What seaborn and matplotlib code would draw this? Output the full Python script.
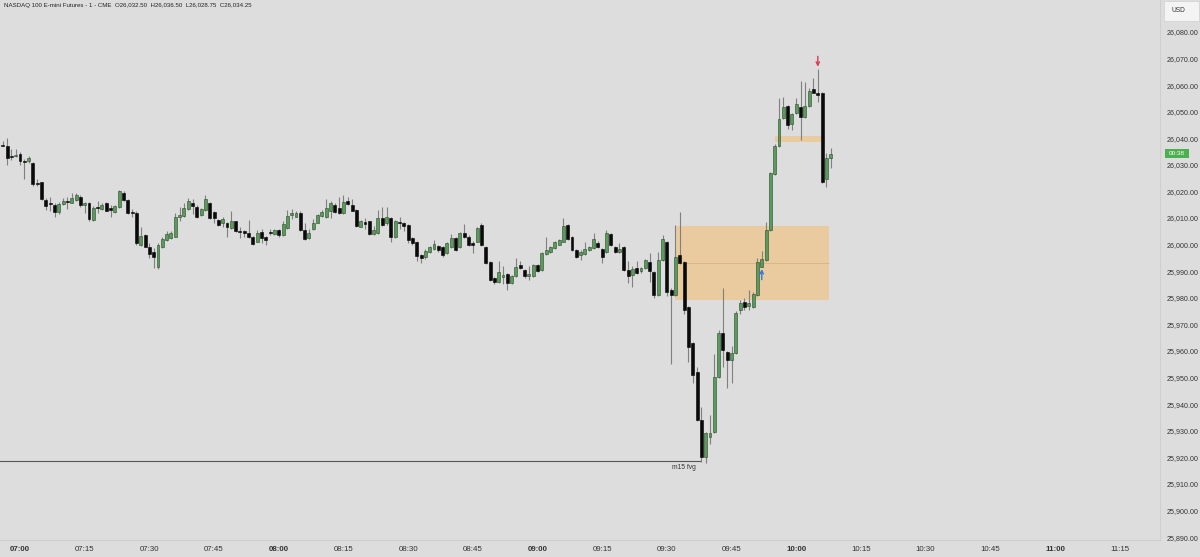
import numpy as np
import pandas as pd
import seaborn as sns
import matplotlib.pyplot as plt
from matplotlib.patches import Rectangle

# NQ 1-minute bars, first bar at 06:56 (minute offsets are relative to 07:00)
first_minute = -4
opens = [26037.6, 26037.1, 26033.5, 26033.2, 26034.1, 26031.4, 26031.6, 26030.6, 26023.3, 26023.4,
         26016.8, 26015.5, 26014.9, 26012.4, 26015.3, 26016.4, 26015.8, 26016.7, 26018.0, 26015.0,
         26015.6, 26009.3, 26014.2, 26013.3, 26015.6, 26013.5, 26012.4, 26014.0, 26019.3, 26016.8,
         26012.4, 26012.0, 25999.9, 26003.6, 25999.2, 25997.4, 25991.5, 25999.2, 26001.8, 26002.4,
         26003.0, 26010.5, 26010.8, 26013.3, 26015.5, 26014.3, 26011.2, 26013.0, 26015.8, 26012.4,
         26009.3, 26008.0, 26008.0, 26006.2, 26008.7, 26005.0, 26005.0, 26004.3, 26003.0, 26001.1,
         26004.9, 26002.8, 26004.8, 26003.9, 26005.5, 26003.6, 26006.2, 26011.0, 26010.5, 26012.0,
         26005.5, 26002.4, 26005.8, 26008.2, 26010.8, 26010.3, 26012.8, 26015.0, 26013.7, 26011.8,
         26016.3, 26015.0, 26013.0, 26006.8, 26008.5, 26008.7, 26004.0, 26004.2, 26010.0, 26008.0,
         26010.0, 26002.8, 26008.5, 26008.0, 26007.4, 26002.4, 26001.1, 25996.0, 25995.5, 25997.4,
         25998.4, 25999.3, 25999.0, 25996.8, 25999.2, 26002.4, 25999.2, 26004.3, 26003.0, 26000.7,
         26001.1, 26007.4, 25999.2, 25993.6, 25987.4, 25986.0, 25988.0, 25988.9, 25985.5, 25988.2,
         25992.4, 25990.5, 25988.2, 25988.2, 25992.4, 25990.5, 25996.5, 25997.4, 25998.6, 26000.0,
         26001.1, 26007.4, 26003.0, 25998.0, 25996.0, 25996.5, 25997.8, 25998.6, 26000.7, 25998.3,
         25997.4, 26004.0, 25999.0, 25997.4, 25999.2, 25990.5, 25988.6, 25991.1, 25989.9, 25991.1,
         25993.6, 25989.8, 25981.0, 25994.2, 26001.1, 25982.9, 25981.0, 25996.1, 25993.6, 25976.6,
         25962.9, 25952.2, 25934.0, 25920.3, 25927.7, 25929.6, 25950.3, 25966.6, 25959.7, 25956.6,
         25959.2, 25975.5, 25978.5, 25976.8, 25976.5, 25981.1, 25991.7, 25994.2, 26005.5, 26026.5,
         26037.1, 26047.5, 26052.2, 26045.4, 26049.6, 26051.9, 26047.9, 26052.2, 26058.4, 26056.9,
         26056.9, 26024.6, 26032.5]
highs = [26038.8, 26040.0, 26036.0, 26036.0, 26034.8, 26032.1, 26033.5, 26031.0, 26024.8, 26023.6,
         26017.4, 26018.0, 26015.5, 26016.0, 26017.4, 26018.0, 26019.5, 26019.5, 26018.5, 26016.2,
         26016.0, 26014.5, 26016.5, 26015.5, 26016.0, 26014.9, 26014.8, 26020.6, 26020.0, 26017.0,
         26013.3, 26012.5, 26006.8, 26004.0, 26000.5, 25998.7, 26000.5, 26003.0, 26005.0, 26005.0,
         26011.8, 26014.0, 26015.6, 26017.5, 26017.0, 26014.8, 26013.8, 26018.5, 26016.2, 26012.8,
         26009.8, 26010.5, 26008.5, 26012.8, 26009.0, 26006.5, 26005.5, 26009.3, 26003.3, 26005.5,
         26006.0, 26003.2, 26006.0, 26006.0, 26006.0, 26009.0, 26013.0, 26013.3, 26012.5, 26012.5,
         26008.0, 26006.0, 26009.5, 26011.5, 26013.0, 26017.0, 26016.3, 26015.6, 26017.8, 26018.5,
         26018.0, 26017.0, 26013.5, 26009.2, 26010.0, 26009.0, 26007.0, 26013.0, 26014.0, 26014.0,
         26010.5, 26009.2, 26010.5, 26008.4, 26007.8, 26002.8, 26001.5, 25996.4, 25998.5, 25999.5,
         26001.8, 25999.8, 25999.4, 26001.0, 26004.0, 26002.8, 26004.6, 26007.7, 26003.5, 26001.5,
         26006.5, 26008.3, 25999.6, 25994.0, 25988.0, 25994.0, 25992.0, 25989.3, 25988.6, 25994.8,
         25994.0, 25991.0, 25992.0, 25992.8, 25992.8, 25997.2, 26003.0, 25999.6, 26001.5, 26002.2,
         26010.0, 26007.8, 26003.4, 25998.4, 25997.8, 26001.0, 25999.6, 26004.5, 26001.2, 25998.7,
         26005.5, 26004.5, 25999.4, 26000.5, 25999.6, 25994.0, 25992.0, 25994.0, 25991.5, 25994.6,
         25997.0, 25990.2, 25997.4, 26003.5, 26001.5, 25983.5, 26007.4, 26012.4, 25994.0, 25977.0,
         25963.3, 25954.0, 25939.0, 25929.4, 25936.0, 25959.0, 25968.0, 25983.6, 25960.0, 25962.0,
         25975.0, 25979.0, 25980.0, 25983.0, 25982.0, 25995.0, 25997.5, 26008.6, 26027.2, 26038.0,
         26055.0, 26055.5, 26052.6, 26049.6, 26055.0, 26061.7, 26061.3, 26059.0, 26062.5, 26066.0,
         26057.5, 26034.4, 26036.5]
lows = [26036.9, 26030.0, 26032.0, 26032.8, 26029.8, 26024.6, 26030.6, 26022.0, 26022.0, 26016.8,
        26013.0, 26012.8, 26010.3, 26011.5, 26015.0, 26013.3, 26015.5, 26016.5, 26014.0, 26012.0,
        26009.0, 26008.9, 26011.8, 26013.0, 26012.5, 26010.3, 26012.0, 26013.8, 26016.5, 26011.5,
        26010.3, 26000.0, 25999.5, 25999.0, 25995.0, 25991.2, 25991.0, 25998.8, 26001.5, 26002.0,
        26002.8, 26009.0, 26010.5, 26013.0, 26011.5, 26010.0, 26010.8, 26012.8, 26009.8, 26008.0,
        26007.0, 26006.6, 26003.0, 26006.0, 26004.8, 26002.6, 26003.0, 26002.5, 25999.8, 26000.8,
        26000.5, 26000.0, 26003.5, 26003.5, 26003.0, 26003.2, 26006.0, 26009.6, 26010.2, 26005.2,
        26001.6, 26002.0, 26005.5, 26008.0, 26010.5, 26010.0, 26010.0, 26012.0, 26011.6, 26011.5,
        26014.8, 26012.5, 26006.5, 26006.5, 26006.0, 26003.6, 26003.8, 26004.0, 26007.0, 26007.5,
        26001.0, 26002.5, 26006.0, 26005.0, 26000.5, 26000.0, 25994.0, 25993.0, 25994.5, 25997.0,
        25998.0, 25997.4, 25995.5, 25996.5, 25998.8, 25997.5, 25998.8, 26002.5, 25999.5, 25997.0,
        26000.8, 25999.5, 25992.6, 25986.3, 25985.0, 25985.5, 25985.0, 25983.0, 25985.0, 25987.8,
        25990.8, 25987.5, 25986.8, 25987.8, 25989.6, 25990.2, 25996.2, 25997.0, 25998.3, 25999.7,
        26000.8, 26001.6, 25997.6, 25995.0, 25994.2, 25996.2, 25997.5, 25998.3, 25998.6, 25993.0,
        25997.0, 25999.5, 25997.0, 25997.0, 25990.0, 25985.5, 25984.0, 25989.0, 25989.5, 25990.8,
        25986.0, 25980.0, 25980.6, 25993.8, 25980.5, 25955.0, 25980.6, 25992.8, 25973.8, 25956.0,
        25948.0, 25933.5, 25918.4, 25918.0, 25925.0, 25929.2, 25950.0, 25954.0, 25946.0, 25948.0,
        25958.8, 25974.0, 25975.5, 25975.5, 25976.2, 25980.8, 25991.4, 25993.9, 26005.2, 26026.2,
        26036.8, 26047.2, 26043.5, 26043.0, 26049.3, 26039.4, 26047.6, 26051.9, 26057.0, 26053.8,
        26023.0, 26021.8, 26028.75]
closes = [26037.2, 26032.5, 26033.0, 26033.8, 26031.6, 26031.1, 26032.5, 26022.8, 26022.8, 26017.2,
          26014.5, 26015.1, 26012.4, 26015.3, 26016.5, 26016.0, 26017.4, 26018.7, 26014.9, 26015.6,
          26009.5, 26013.7, 26013.9, 26014.9, 26012.8, 26013.2, 26014.5, 26020.0, 26016.8, 26011.8,
          26012.0, 26000.7, 26003.3, 25999.2, 25996.5, 25995.5, 26000.0, 26002.0, 26004.0, 26004.5,
          26010.3, 26011.0, 26013.7, 26016.5, 26014.5, 26010.5, 26013.3, 26017.0, 26010.0, 26010.0,
          26007.4, 26009.5, 26006.8, 26008.7, 26005.0, 26004.8, 26004.2, 26002.8, 26000.2, 26004.3,
          26002.4, 26001.8, 26004.5, 26005.5, 26003.6, 26007.7, 26010.8, 26012.0, 26012.0, 26005.5,
          26002.0, 26004.5, 26008.3, 26011.0, 26012.2, 26013.7, 26015.8, 26012.4, 26012.0, 26016.2,
          26015.3, 26012.8, 26007.0, 26008.7, 26007.8, 26004.0, 26005.5, 26010.0, 26007.4, 26010.2,
          26002.8, 26008.7, 26008.0, 26007.0, 26001.8, 26000.5, 25995.7, 25995.0, 25997.6, 25999.0,
          26000.2, 25997.8, 25996.1, 26000.5, 26002.4, 25998.0, 26004.3, 26002.8, 25999.9, 26000.0,
          26006.1, 25999.9, 25993.0, 25986.7, 25986.0, 25989.8, 25988.6, 25985.5, 25988.2, 25991.7,
          25991.1, 25988.2, 25988.9, 25992.4, 25990.0, 25996.8, 25998.0, 25999.2, 26001.1, 26001.8,
          26007.0, 26002.0, 25998.0, 25995.5, 25997.4, 25998.3, 25999.2, 26002.0, 25999.0, 25995.3,
          26004.3, 25999.9, 25997.4, 25998.5, 25990.5, 25988.2, 25991.0, 25989.5, 25991.1, 25994.2,
          25990.2, 25981.0, 25994.2, 26002.0, 25982.3, 25981.1, 25995.3, 25993.2, 25975.4, 25961.6,
          25951.0, 25934.0, 25920.2, 25929.0, 25929.2, 25950.3, 25966.6, 25960.4, 25956.6, 25959.2,
          25974.2, 25978.0, 25976.5, 25978.2, 25981.3, 25993.6, 25994.5, 26005.5, 26026.8, 26037.1,
          26047.2, 26051.9, 26045.0, 26049.2, 26052.9, 26047.9, 26052.2, 26057.9, 26056.9, 26056.3,
          26023.7, 26032.5, 26034.25]

time_ticks = [0, 15, 30, 45, 60, 75, 90, 105, 120, 135, 150, 165, 180, 195, 210, 225, 240, 255]
time_labels = ['07:00', '07:15', '07:30', '07:45', '08:00', '08:15', '08:30', '08:45', '09:00',
               '09:15', '09:30', '09:45', '10:00', '10:15', '10:30', '10:45', '11:00', '11:15']
price_ticks = [25890, 25900, 25910, 25920, 25930, 25940, 25950, 25960, 25970, 25980,
               25990, 26000, 26010, 26020, 26030, 26040, 26050, 26060, 26070, 26080]

# drawings on the chart (minute offset / price)
fvg_zone = (151.9, 187.7, 25979.2, 26007.0)
small_zone = (175.0, 186.7, 26038.6, 26040.8)
m15_level = 25918.6
m15_end = 158
buy_signal = 172
sell_signal = 185
header = 'NASDAQ 100 E-mini Futures - 1 - CME  O26,032.50  H26,036.50  L26,028.75  C26,034.25'

df = pd.DataFrame({'open': opens, 'high': highs, 'low': lows, 'close': closes})
df['minute'] = np.arange(len(df)) + first_minute
df['up'] = df['close'] >= df['open']

bg = '#dddddd'
sns.set_theme(style='white', rc={'axes.facecolor': bg, 'figure.facecolor': bg})
plt.rcParams['font.family'] = ['Liberation Sans', 'DejaVu Sans']

fig = plt.figure(figsize=(12, 5.57), dpi=100)
ax = fig.add_axes([0, 17 / 557, 1160 / 1200, 540 / 557])

# zones behind candles
x0, x1, y0, y1 = fvg_zone
ax.add_patch(Rectangle((x0, y0), x1 - x0, y1 - y0, facecolor='#eacb9f', edgecolor='none', zorder=1))
ax.hlines((y0 + y1) / 2, x0, x1, color='#d6b488', lw=0.6, zorder=1.5)
x0, x1, y0, y1 = small_zone
ax.add_patch(Rectangle((x0, y0), x1 - x0, y1 - y0, facecolor='#eacb9f', edgecolor='none', zorder=1))

ax.hlines(m15_level, -10, m15_end, color='#555555', lw=0.8, zorder=1.5)
ax.text(m15_end - 4, m15_level - 1.2, 'm15 fvg', fontsize=4.8, color='#333333', ha='center', va='top')

# candles
ax.vlines(df['minute'], df['low'], df['high'], color='#808080', lw=0.8, zorder=2)
body_low = df[['open', 'close']].min(axis=1)
body_h = (df['close'] - df['open']).abs().clip(lower=0.4)
ax.bar(df['minute'], body_h, bottom=body_low, width=0.68,
       color=np.where(df['up'], '#5a9a5a', '#0a0a0a'),
       edgecolor=np.where(df['up'], '#2c4a2c', '#000000'), lw=0.4, zorder=3)

# signals
sell_high = df['high'].iloc[sell_signal - first_minute]
buy_low = df['low'].iloc[buy_signal - first_minute]
arrow = dict(arrowstyle='->', lw=1.0, mutation_scale=6, shrinkA=0, shrinkB=0)
ax.annotate('', xy=(sell_signal, sell_high + 0.9), xytext=(sell_signal, sell_high + 4.8),
            arrowprops=dict(arrow, color='#e0384f'), zorder=4)
ax.annotate('', xy=(buy_signal, buy_low - 0.6), xytext=(buy_signal, buy_low - 4.6),
            arrowprops=dict(arrow, color='#2f78e6'), zorder=4)

ax.set_xlim(-4.64, 264.35)
ax.set_ylim(25888.9, 26092.0)

ax.set_xticks(time_ticks)
ax.set_xticklabels(time_labels)
for lab in ax.get_xticklabels():
    if lab.get_text().endswith(':00'):
        lab.set_fontweight('bold')
ax.tick_params(axis='x', length=0, pad=4.2, labelsize=5.7, colors='#333333')

ax.yaxis.tick_right()
ax.set_yticks(price_ticks)
ax.set_yticklabels([f'{p:,.2f}' for p in price_ticks])
ax.tick_params(axis='y', length=0, pad=5, labelsize=5.1, colors='#333333')

for side in ['top', 'left']:
    ax.spines[side].set_visible(False)
ax.spines['right'].set_color('#cfcfcf')
ax.spines['bottom'].set_color('#cfcfcf')
ax.spines['right'].set_linewidth(0.8)
ax.spines['bottom'].set_linewidth(0.8)

fig.text(4 / 1200, 1 - 6 / 557, header, fontsize=4.4, color='#222222', va='center', ha='left')

# price scale boxes
fig.patches.append(Rectangle((1164 / 1200, 1 - 21 / 557), 35 / 1200, 20 / 557, transform=fig.transFigure,
                             facecolor='#f4f4f4', edgecolor='#d0d0d0', lw=0.5))
fig.text(1171 / 1200, 1 - 11 / 557, 'USD', fontsize=4.8, color='#333333', va='center')
cur_y = ax.transData.transform((0, closes[-1]))[1] / fig.bbox.height
fig.patches.append(Rectangle((1165 / 1200, cur_y - 4 / 557), 24 / 1200, 9 / 557, transform=fig.transFigure,
                             facecolor='#4caf50', edgecolor='none'))
fig.text(1177 / 1200, cur_y + 0.5 / 557, '00:38', fontsize=4.6, color='white', va='center', ha='center')

fig.savefig('out.png', dpi=100, facecolor=bg)
